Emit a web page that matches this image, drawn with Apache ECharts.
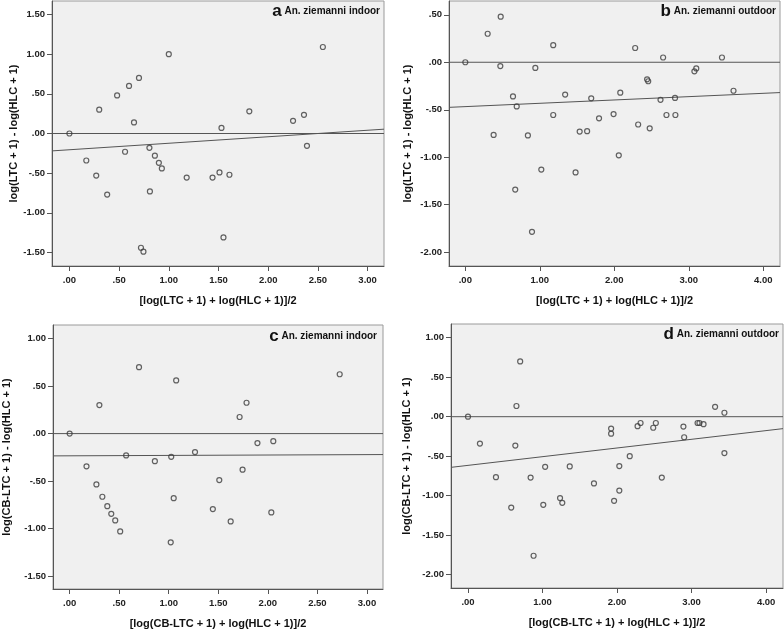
<!DOCTYPE html>
<html>
<head>
<meta charset="utf-8">
<script src="https://cdn.jsdelivr.net/npm/echarts@6/dist/echarts.min.js"></script>
<style>html,body{margin:0;padding:0;background:#fff}#c{width:784px;height:631px}</style>
</head>
<body>
<div id="c"></div>
<script>
// ---- Panel a: An. ziemanni indoor (LTC vs HLC)
const aX = [0, 0.17, 0.27, 0.30, 0.38, 0.48, 0.56, 0.60, 0.65, 0.70, 0.72, 0.745, 0.805, 0.81, 0.86, 0.90, 0.93, 1.00, 1.18, 1.44, 1.51, 1.53, 1.55, 1.61, 1.81, 2.25, 2.36, 2.39, 2.55];
const aY = [0, -0.34, -0.53, 0.30, -0.77, 0.48, -0.23, 0.60, 0.14, 0.70, -1.44, -1.49, -0.18, -0.73, -0.28, -0.37, -0.44, 1.00, -0.555, -0.555, -0.49, 0.07, -1.31, -0.52, 0.28, 0.16, 0.235, -0.155, 1.09];
// ---- Panel b: An. ziemanni outdoor (LTC vs HLC)
const bX = [0, 0.30, 0.38, 0.47, 0.475, 0.64, 0.67, 0.69, 0.84, 0.895, 0.94, 1.02, 1.18, 1.18, 1.34, 1.48, 1.535, 1.635, 1.69, 1.795, 1.99, 2.06, 2.08, 2.28, 2.32, 2.44, 2.455, 2.475, 2.62, 2.655, 2.70, 2.815, 2.82, 3.075, 3.10, 3.445, 3.60];
const bY = [0, 0.30, -0.765, -0.04, 0.48, -0.36, -1.34, -0.465, -0.77, -1.785, -0.06, -1.13, 0.18, -0.555, -0.34, -1.16, -0.73, -0.725, -0.38, -0.59, -0.545, -0.98, -0.32, 0.15, -0.655, -0.18, -0.20, -0.695, -0.395, 0.05, -0.555, -0.375, -0.555, -0.095, -0.065, 0.05, -0.30];
// ---- Panel c: An. ziemanni indoor (CB-LTC vs HLC)
const cX = [0, 0.17, 0.27, 0.30, 0.33, 0.38, 0.42, 0.46, 0.51, 0.57, 0.70, 0.86, 1.02, 1.025, 1.05, 1.075, 1.265, 1.445, 1.51, 1.625, 1.715, 1.745, 1.785, 1.895, 2.035, 2.055, 2.725];
const cY = [0, -0.345, -0.535, 0.30, -0.665, -0.765, -0.845, -0.915, -1.03, -0.23, 0.70, -0.29, -1.145, -0.245, -0.68, 0.56, -0.195, -0.795, -0.49, -0.925, 0.175, -0.38, 0.325, -0.10, -0.83, -0.08, 0.625];
// ---- Panel d: An. ziemanni outdoor (CB-LTC vs HLC)
const dX = [0, 0.16, 0.375, 0.58, 0.635, 0.65, 0.70, 0.84, 0.88, 1.01, 1.035, 1.235, 1.265, 1.365, 1.69, 1.92, 1.92, 1.96, 2.03, 2.03, 2.17, 2.275, 2.315, 2.485, 2.52, 2.60, 2.89, 2.90, 3.08, 3.105, 3.16, 3.315, 3.44, 3.44];
const dY = [0, -0.34, -0.765, -1.15, -0.365, 0.135, 0.70, -0.77, -1.76, -1.115, -0.635, -1.03, -1.09, -0.63, -0.845, -0.15, -0.215, -1.065, -0.625, -0.935, -0.50, -0.12, -0.08, -0.14, -0.08, -0.77, -0.125, -0.26, -0.08, -0.08, -0.095, 0.125, 0.05, -0.46];

// fitted regression lines (intercept, slope) per panel a..d
const fitIntercept = [-0.205, -0.467, -0.234, -0.616];
const fitSlope = [0.082, 0.035, 0.0042, 0.110];

// axis ranges per panel
const xMin = [-0.175, -0.219, -0.168, -0.228];
const xMax = [3.165, 4.224, 3.162, 4.226];
const yMin = [-1.67, -2.145, -1.637, -2.168];
const yMax = [1.67, 0.645, 1.144, 1.173];

// tick values
const xTicksA = [0, 0.5, 1, 1.5, 2, 2.5, 3];
const xTicksB = [0, 1, 2, 3, 4];
const yTicksA = [-1.5, -1, -0.5, 0, 0.5, 1, 1.5];
const yTicksB = [-2, -1.5, -1, -0.5, 0, 0.5];
const yTicksC = [-1.5, -1, -0.5, 0, 0.5, 1];
const yTicksD = [-2, -1.5, -1, -0.5, 0, 0.5, 1];

const panelLetters = ['a', 'b', 'c', 'd'];
const panelNames = ['An. ziemanni indoor', 'An. ziemanni outdoor', 'An. ziemanni indoor', 'An. ziemanni outdoor'];
const yTitles = ['log(LTC + 1) - log(HLC + 1)', 'log(LTC + 1) - log(HLC + 1)', 'log(CB-LTC + 1) - log(HLC + 1)', 'log(CB-LTC + 1) - log(HLC + 1)'];
const xTitles = ['[log(LTC + 1) + log(HLC + 1)]/2', '[log(LTC + 1) + log(HLC + 1)]/2', '[log(CB-LTC + 1) + log(HLC + 1)]/2', '[log(CB-LTC + 1) + log(HLC + 1)]/2'];

const xs = [aX, bX, cX, dX];
const ys = [aY, bY, cY, dY];
const xTicks = [xTicksA, xTicksB, xTicksA, xTicksB];
const yTicks = [yTicksA, yTicksB, yTicksC, yTicksD];

const grids = [
  {left: 52, top: 1, width: 332, height: 265},
  {left: 449, top: 1, width: 331, height: 265},
  {left: 52, top: 325, width: 331, height: 264},
  {left: 451, top: 324, width: 332, height: 264}
];
const yNameGap = [33, 36, 41, 39];
const titlePos = [
  {right: 404, top: 2},
  {right: 8, top: 2},
  {right: 407, top: 327},
  {right: 5, top: 325}
];

function fmt(v) {
  let s = Math.abs(v).toFixed(2);
  if (s.charAt(0) === '0') s = s.slice(1);
  return (v < 0 ? '-' : '') + s;
}

const FONT = 'Arial, "Liberation Sans", Helvetica, sans-serif';
const tickLabel = {fontSize: 9.5, color: '#222', fontFamily: FONT, fontWeight: 'bold'};

const option = {
  animation: false,
  backgroundColor: '#ffffff',
  title: panelLetters.map((L, i) => ({
    text: '{big|' + L + '}{small| ' + panelNames[i] + '}',
    right: titlePos[i].right, top: titlePos[i].top, padding: 0,
    textStyle: {
      rich: {
        big: {fontSize: 17, fontWeight: 'bold', color: '#111', fontFamily: FONT, lineHeight: 18},
        small: {fontSize: 10, fontWeight: 'bold', color: '#111', fontFamily: FONT, lineHeight: 18}
      }
    }
  })),
  grid: grids.map(g => Object.assign({show: true, backgroundColor: '#f0f0f0', borderColor: '#9a9a9a', borderWidth: 1, containLabel: false}, g)),
  xAxis: grids.map((g, i) => ({
    type: 'value', gridIndex: i, min: xMin[i], max: xMax[i],
    name: xTitles[i], nameLocation: 'middle', nameGap: 29,
    nameTextStyle: {fontSize: 11, fontWeight: 'bold', color: '#111', fontFamily: FONT},
    axisLine: {show: true, onZero: false, lineStyle: {color: '#555', width: 1}},
    axisTick: {show: true, length: 5, lineStyle: {color: '#555'}, customValues: xTicks[i]},
    axisLabel: Object.assign({margin: 9, formatter: fmt, customValues: xTicks[i]}, tickLabel),
    splitLine: {show: false}
  })),
  yAxis: grids.map((g, i) => ({
    type: 'value', gridIndex: i, min: yMin[i], max: yMax[i],
    name: yTitles[i], nameLocation: 'middle', nameGap: yNameGap[i],
    nameTextStyle: {fontSize: 11, fontWeight: 'bold', color: '#111', fontFamily: FONT},
    axisLine: {show: true, onZero: false, lineStyle: {color: '#555', width: 1}},
    axisTick: {show: true, length: 5, lineStyle: {color: '#555'}, customValues: yTicks[i]},
    axisLabel: Object.assign({margin: 7, formatter: fmt, customValues: yTicks[i]}, tickLabel),
    splitLine: {show: false}
  })),
  series: []
};

for (let i = 0; i < 4; i++) {
  option.series.push({
    type: 'line', xAxisIndex: i, yAxisIndex: i, silent: true, symbol: 'none',
    data: [[xMin[i], 0], [xMax[i], 0]],
    lineStyle: {color: '#555', width: 1}, z: 2
  });
  option.series.push({
    type: 'line', xAxisIndex: i, yAxisIndex: i, silent: true, symbol: 'none',
    data: [[xMin[i], fitIntercept[i] + fitSlope[i] * xMin[i]], [xMax[i], fitIntercept[i] + fitSlope[i] * xMax[i]]],
    lineStyle: {color: '#555', width: 1}, z: 2
  });
  option.series.push({
    type: 'scatter', xAxisIndex: i, yAxisIndex: i, silent: true,
    symbol: 'circle', symbolSize: 5,
    data: xs[i].map((x, k) => [x, ys[i][k]]),
    itemStyle: {color: 'rgba(0,0,0,0)', borderColor: '#3c3c3c', borderWidth: 1.2},
    z: 3
  });
}

const chart = echarts.init(document.getElementById('c'), null, {renderer: 'canvas'});
chart.setOption(option);
</script>
</body>
</html>
